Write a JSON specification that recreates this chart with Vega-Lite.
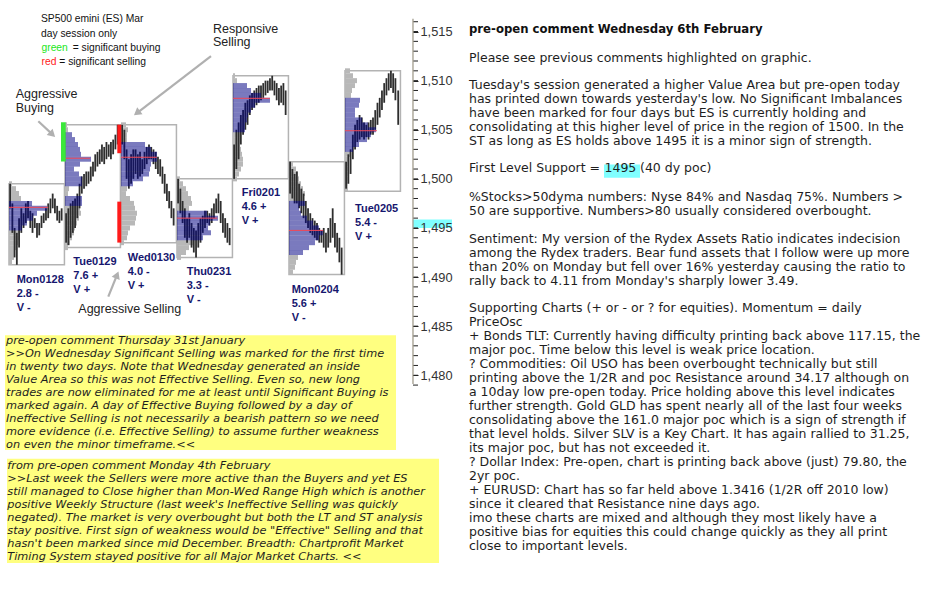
{
  "$schema": "https://vega.github.io/schema/vega-lite/v6.json",
  "width": 413,
  "height": 590,
  "autosize": {"type": "none"},
  "padding": {"left": 0, "top": 0, "right": 524, "bottom": 0},
  "background": "white",
  "config": {"view": {"stroke": null}, "axis": {"grid": false}},
  "datasets": {
    "boxes": [
      {"s": 0, "e": 0.99, "lo": 1491.25, "hi": 1499.5},
      {"s": 1, "e": 1.99, "lo": 1493.0, "hi": 1505.5},
      {"s": 2, "e": 2.99, "lo": 1493.5, "hi": 1505.5},
      {"s": 3, "e": 3.99, "lo": 1492.0, "hi": 1500.0},
      {"s": 4, "e": 4.99, "lo": 1500.0, "hi": 1510.5},
      {"s": 5, "e": 5.99, "lo": 1490.25, "hi": 1501.75},
      {"s": 6, "e": 6.99, "lo": 1498.75, "hi": 1511.0}
    ],
    "ticks": [
      {"p": 1479}, {"p": 1480}, {"p": 1481}, {"p": 1482}, {"p": 1483}, {"p": 1484}, {"p": 1485}, {"p": 1486}, {"p": 1487}, {"p": 1488},
      {"p": 1489}, {"p": 1490}, {"p": 1491}, {"p": 1492}, {"p": 1493}, {"p": 1494}, {"p": 1495}, {"p": 1496}, {"p": 1497}, {"p": 1498},
      {"p": 1499}, {"p": 1500}, {"p": 1501}, {"p": 1502}, {"p": 1503}, {"p": 1504}, {"p": 1505}, {"p": 1506}, {"p": 1507}, {"p": 1508},
      {"p": 1509}, {"p": 1510}, {"p": 1511}, {"p": 1512}, {"p": 1513}, {"p": 1514}, {"p": 1515}, {"p": 1516}
    ],
    "prof": [
      {"d": 0, "p": 1499.5, "e": 0.054, "va": 0}, {"d": 0, "p": 1499.0, "e": 0.125, "va": 0}, {"d": 0, "p": 1498.5, "e": 0.179, "va": 0}, {"d": 0, "p": 1498.0, "e": 0.214, "va": 0},
      {"d": 0, "p": 1497.5, "e": 0.411, "va": 1}, {"d": 0, "p": 1497.0, "e": 0.679, "va": 1}, {"d": 0, "p": 1496.5, "e": 0.5, "va": 1}, {"d": 0, "p": 1496.0, "e": 0.429, "va": 1},
      {"d": 0, "p": 1495.5, "e": 0.321, "va": 1}, {"d": 0, "p": 1495.0, "e": 0.232, "va": 1}, {"d": 0, "p": 1494.5, "e": 0.179, "va": 0}, {"d": 0, "p": 1494.0, "e": 0.196, "va": 0},
      {"d": 0, "p": 1493.5, "e": 0.161, "va": 0}, {"d": 0, "p": 1493.0, "e": 0.143, "va": 0}, {"d": 0, "p": 1492.5, "e": 0.107, "va": 0}, {"d": 0, "p": 1492.0, "e": 0.089, "va": 0},
      {"d": 0, "p": 1491.5, "e": 0.054, "va": 0},
      {"d": 1, "p": 1505.5, "e": 1.036, "va": 0}, {"d": 1, "p": 1505.0, "e": 1.054, "va": 0}, {"d": 1, "p": 1504.5, "e": 1.125, "va": 1}, {"d": 1, "p": 1504.0, "e": 1.179, "va": 1},
      {"d": 1, "p": 1503.5, "e": 1.232, "va": 1}, {"d": 1, "p": 1503.0, "e": 1.268, "va": 1}, {"d": 1, "p": 1502.5, "e": 1.286, "va": 1}, {"d": 1, "p": 1502.0, "e": 1.464, "va": 1},
      {"d": 1, "p": 1501.5, "e": 1.268, "va": 1}, {"d": 1, "p": 1501.0, "e": 1.161, "va": 1}, {"d": 1, "p": 1500.5, "e": 1.25, "va": 1}, {"d": 1, "p": 1500.0, "e": 1.304, "va": 1},
      {"d": 1, "p": 1499.5, "e": 1.304, "va": 1}, {"d": 1, "p": 1499.0, "e": 1.071, "va": 0}, {"d": 1, "p": 1498.5, "e": 1.054, "va": 0}, {"d": 1, "p": 1498.0, "e": 1.304, "va": 1},
      {"d": 1, "p": 1497.5, "e": 1.304, "va": 1}, {"d": 1, "p": 1497.0, "e": 1.268, "va": 0}, {"d": 1, "p": 1496.5, "e": 1.286, "va": 0}, {"d": 1, "p": 1496.0, "e": 1.25, "va": 0},
      {"d": 1, "p": 1495.5, "e": 1.214, "va": 0}, {"d": 1, "p": 1495.0, "e": 1.179, "va": 0}, {"d": 1, "p": 1494.5, "e": 1.161, "va": 0}, {"d": 1, "p": 1494.0, "e": 1.125, "va": 0},
      {"d": 1, "p": 1493.5, "e": 1.089, "va": 0}, {"d": 1, "p": 1493.0, "e": 1.054, "va": 0},
      {"d": 2, "p": 1505.5, "e": 2.089, "va": 0}, {"d": 2, "p": 1505.0, "e": 2.125, "va": 0}, {"d": 2, "p": 1504.5, "e": 2.107, "va": 0}, {"d": 2, "p": 1504.0, "e": 2.107, "va": 0},
      {"d": 2, "p": 1503.5, "e": 2.429, "va": 1}, {"d": 2, "p": 1503.0, "e": 2.536, "va": 1}, {"d": 2, "p": 1502.5, "e": 2.643, "va": 1}, {"d": 2, "p": 1502.0, "e": 2.643, "va": 1},
      {"d": 2, "p": 1501.5, "e": 2.536, "va": 1}, {"d": 2, "p": 1501.0, "e": 2.518, "va": 1}, {"d": 2, "p": 1500.5, "e": 2.5, "va": 1}, {"d": 2, "p": 1500.0, "e": 2.393, "va": 1},
      {"d": 2, "p": 1499.5, "e": 2.214, "va": 1}, {"d": 2, "p": 1499.0, "e": 2.107, "va": 0}, {"d": 2, "p": 1498.5, "e": 2.089, "va": 0}, {"d": 2, "p": 1498.0, "e": 2.161, "va": 0},
      {"d": 2, "p": 1497.5, "e": 2.232, "va": 0}, {"d": 2, "p": 1497.0, "e": 2.25, "va": 0}, {"d": 2, "p": 1496.5, "e": 2.286, "va": 0}, {"d": 2, "p": 1496.0, "e": 2.268, "va": 0},
      {"d": 2, "p": 1495.5, "e": 2.25, "va": 0}, {"d": 2, "p": 1495.0, "e": 2.161, "va": 0}, {"d": 2, "p": 1494.5, "e": 2.125, "va": 0}, {"d": 2, "p": 1494.0, "e": 2.107, "va": 0},
      {"d": 2, "p": 1493.5, "e": 2.054, "va": 0},
      {"d": 3, "p": 1500.0, "e": 3.054, "va": 0}, {"d": 3, "p": 1499.5, "e": 3.107, "va": 0}, {"d": 3, "p": 1499.0, "e": 3.161, "va": 0}, {"d": 3, "p": 1498.5, "e": 3.196, "va": 0},
      {"d": 3, "p": 1498.0, "e": 3.25, "va": 0}, {"d": 3, "p": 1497.5, "e": 3.268, "va": 0}, {"d": 3, "p": 1497.0, "e": 3.214, "va": 0}, {"d": 3, "p": 1496.5, "e": 3.536, "va": 1},
      {"d": 3, "p": 1496.0, "e": 3.732, "va": 1}, {"d": 3, "p": 1495.5, "e": 3.589, "va": 1}, {"d": 3, "p": 1495.0, "e": 3.554, "va": 1}, {"d": 3, "p": 1494.5, "e": 3.607, "va": 1},
      {"d": 3, "p": 1494.0, "e": 3.464, "va": 1}, {"d": 3, "p": 1493.5, "e": 3.286, "va": 0}, {"d": 3, "p": 1493.0, "e": 3.214, "va": 0}, {"d": 3, "p": 1492.5, "e": 3.161, "va": 0},
      {"d": 3, "p": 1492.0, "e": 3.071, "va": 0},
      {"d": 4, "p": 1510.5, "e": 4.036, "va": 0}, {"d": 4, "p": 1510.0, "e": 4.071, "va": 0}, {"d": 4, "p": 1509.5, "e": 4.25, "va": 1}, {"d": 4, "p": 1509.0, "e": 4.321, "va": 1},
      {"d": 4, "p": 1508.5, "e": 4.5, "va": 1}, {"d": 4, "p": 1508.0, "e": 4.661, "va": 1}, {"d": 4, "p": 1507.5, "e": 4.393, "va": 1}, {"d": 4, "p": 1507.0, "e": 4.321, "va": 1},
      {"d": 4, "p": 1506.5, "e": 4.268, "va": 1}, {"d": 4, "p": 1506.0, "e": 4.25, "va": 1}, {"d": 4, "p": 1505.5, "e": 4.214, "va": 1}, {"d": 4, "p": 1505.0, "e": 4.214, "va": 1},
      {"d": 4, "p": 1504.5, "e": 4.143, "va": 0}, {"d": 4, "p": 1504.0, "e": 4.125, "va": 0}, {"d": 4, "p": 1503.5, "e": 4.125, "va": 0}, {"d": 4, "p": 1503.0, "e": 4.143, "va": 0},
      {"d": 4, "p": 1502.5, "e": 4.161, "va": 0}, {"d": 4, "p": 1502.0, "e": 4.179, "va": 0}, {"d": 4, "p": 1501.5, "e": 4.179, "va": 0}, {"d": 4, "p": 1501.0, "e": 4.143, "va": 0},
      {"d": 4, "p": 1500.5, "e": 4.107, "va": 0}, {"d": 4, "p": 1500.0, "e": 4.071, "va": 0},
      {"d": 5, "p": 1501.5, "e": 5.071, "va": 0}, {"d": 5, "p": 1501.0, "e": 5.125, "va": 0}, {"d": 5, "p": 1500.5, "e": 5.161, "va": 0}, {"d": 5, "p": 1500.0, "e": 5.179, "va": 0},
      {"d": 5, "p": 1499.5, "e": 5.214, "va": 0}, {"d": 5, "p": 1499.0, "e": 5.25, "va": 0}, {"d": 5, "p": 1498.5, "e": 5.286, "va": 0}, {"d": 5, "p": 1498.0, "e": 5.268, "va": 0},
      {"d": 5, "p": 1497.5, "e": 5.286, "va": 1}, {"d": 5, "p": 1497.0, "e": 5.179, "va": 1}, {"d": 5, "p": 1496.5, "e": 5.214, "va": 1}, {"d": 5, "p": 1496.0, "e": 5.321, "va": 1},
      {"d": 5, "p": 1495.5, "e": 5.429, "va": 1}, {"d": 5, "p": 1495.0, "e": 5.536, "va": 1}, {"d": 5, "p": 1494.5, "e": 5.607, "va": 1}, {"d": 5, "p": 1494.0, "e": 5.536, "va": 1},
      {"d": 5, "p": 1493.5, "e": 5.464, "va": 1}, {"d": 5, "p": 1493.0, "e": 5.357, "va": 1}, {"d": 5, "p": 1492.5, "e": 5.25, "va": 1}, {"d": 5, "p": 1492.0, "e": 5.161, "va": 0},
      {"d": 5, "p": 1491.5, "e": 5.125, "va": 0}, {"d": 5, "p": 1491.0, "e": 5.107, "va": 0}, {"d": 5, "p": 1490.5, "e": 5.071, "va": 0},
      {"d": 6, "p": 1511.0, "e": 6.089, "va": 0}, {"d": 6, "p": 1510.5, "e": 6.143, "va": 0}, {"d": 6, "p": 1510.0, "e": 6.214, "va": 0}, {"d": 6, "p": 1509.5, "e": 6.179, "va": 0},
      {"d": 6, "p": 1509.0, "e": 6.125, "va": 0}, {"d": 6, "p": 1508.5, "e": 6.107, "va": 0}, {"d": 6, "p": 1508.0, "e": 6.268, "va": 1}, {"d": 6, "p": 1507.5, "e": 6.25, "va": 1},
      {"d": 6, "p": 1507.0, "e": 6.179, "va": 1}, {"d": 6, "p": 1506.5, "e": 6.179, "va": 1}, {"d": 6, "p": 1506.0, "e": 6.304, "va": 1}, {"d": 6, "p": 1505.5, "e": 6.411, "va": 1},
      {"d": 6, "p": 1505.0, "e": 6.554, "va": 1}, {"d": 6, "p": 1504.5, "e": 6.464, "va": 1}, {"d": 6, "p": 1504.0, "e": 6.393, "va": 1}, {"d": 6, "p": 1503.5, "e": 6.25, "va": 1},
      {"d": 6, "p": 1503.0, "e": 6.143, "va": 1}, {"d": 6, "p": 1502.5, "e": 6.089, "va": 0}, {"d": 6, "p": 1502.0, "e": 6.071, "va": 0}, {"d": 6, "p": 1501.5, "e": 6.071, "va": 0},
      {"d": 6, "p": 1501.0, "e": 6.071, "va": 0}, {"d": 6, "p": 1500.5, "e": 6.071, "va": 0}, {"d": 6, "p": 1500.0, "e": 6.071, "va": 0}, {"d": 6, "p": 1499.5, "e": 6.054, "va": 0},
      {"d": 6, "p": 1499.0, "e": 6.054, "va": 0}
    ],
    "bars": [
      {"t": 0.02, "l": 1497.0, "h": 1499.5}, {"t": 0.06, "l": 1494.5, "h": 1497.5}, {"t": 0.10, "l": 1492.0, "h": 1495.0}, {"t": 0.14, "l": 1491.25, "h": 1494.5},
      {"t": 0.18, "l": 1493.0, "h": 1496.0}, {"t": 0.22, "l": 1494.5, "h": 1497.0}, {"t": 0.26, "l": 1495.0, "h": 1496.5}, {"t": 0.30, "l": 1495.5, "h": 1497.5},
      {"t": 0.34, "l": 1496.0, "h": 1497.75}, {"t": 0.38, "l": 1495.0, "h": 1496.75}, {"t": 0.42, "l": 1494.5, "h": 1496.5}, {"t": 0.46, "l": 1495.0, "h": 1496.0},
      {"t": 0.50, "l": 1494.0, "h": 1495.5}, {"t": 0.54, "l": 1494.25, "h": 1495.5}, {"t": 0.58, "l": 1495.0, "h": 1496.25}, {"t": 0.62, "l": 1495.5, "h": 1496.5},
      {"t": 0.66, "l": 1495.75, "h": 1497.0}, {"t": 0.70, "l": 1496.0, "h": 1497.5}, {"t": 0.74, "l": 1496.5, "h": 1498.0}, {"t": 0.78, "l": 1497.0, "h": 1498.5},
      {"t": 0.82, "l": 1496.5, "h": 1498.0}, {"t": 0.86, "l": 1495.75, "h": 1497.25}, {"t": 0.90, "l": 1495.5, "h": 1496.75}, {"t": 0.94, "l": 1495.75, "h": 1497.0},
      {"t": 1.02, "l": 1493.5, "h": 1496.5}, {"t": 1.06, "l": 1493.25, "h": 1497.0}, {"t": 1.10, "l": 1494.0, "h": 1497.5}, {"t": 1.14, "l": 1494.5, "h": 1497.75},
      {"t": 1.18, "l": 1495.0, "h": 1498.0}, {"t": 1.22, "l": 1496.0, "h": 1498.5}, {"t": 1.26, "l": 1497.0, "h": 1499.5}, {"t": 1.30, "l": 1498.5, "h": 1500.25},
      {"t": 1.34, "l": 1499.0, "h": 1500.5}, {"t": 1.38, "l": 1499.25, "h": 1500.75}, {"t": 1.42, "l": 1499.5, "h": 1500.75}, {"t": 1.46, "l": 1499.75, "h": 1501.25},
      {"t": 1.50, "l": 1500.25, "h": 1501.75}, {"t": 1.54, "l": 1500.75, "h": 1502.5}, {"t": 1.58, "l": 1501.25, "h": 1502.75}, {"t": 1.62, "l": 1501.5, "h": 1503.0},
      {"t": 1.66, "l": 1501.75, "h": 1503.5}, {"t": 1.70, "l": 1501.5, "h": 1503.25}, {"t": 1.74, "l": 1502.0, "h": 1503.75}, {"t": 1.78, "l": 1502.25, "h": 1503.5},
      {"t": 1.82, "l": 1502.0, "h": 1503.75}, {"t": 1.86, "l": 1502.5, "h": 1504.0}, {"t": 1.90, "l": 1503.0, "h": 1504.5}, {"t": 1.94, "l": 1503.5, "h": 1505.5},
      {"t": 2.02, "l": 1503.5, "h": 1505.5}, {"t": 2.06, "l": 1502.0, "h": 1505.0}, {"t": 2.10, "l": 1500.0, "h": 1503.0}, {"t": 2.14, "l": 1499.0, "h": 1502.0},
      {"t": 2.18, "l": 1499.5, "h": 1502.5}, {"t": 2.22, "l": 1500.0, "h": 1503.0}, {"t": 2.26, "l": 1500.5, "h": 1503.0}, {"t": 2.30, "l": 1500.0, "h": 1502.5},
      {"t": 2.34, "l": 1500.25, "h": 1502.75}, {"t": 2.38, "l": 1500.5, "h": 1502.0}, {"t": 2.42, "l": 1501.0, "h": 1502.75}, {"t": 2.46, "l": 1501.5, "h": 1503.25},
      {"t": 2.50, "l": 1502.0, "h": 1503.5}, {"t": 2.54, "l": 1502.0, "h": 1503.25}, {"t": 2.58, "l": 1501.5, "h": 1503.0}, {"t": 2.62, "l": 1501.0, "h": 1502.75},
      {"t": 2.66, "l": 1500.5, "h": 1502.25}, {"t": 2.70, "l": 1500.25, "h": 1502.0}, {"t": 2.74, "l": 1499.5, "h": 1501.25}, {"t": 2.78, "l": 1498.5, "h": 1500.5},
      {"t": 2.82, "l": 1497.75, "h": 1499.5}, {"t": 2.86, "l": 1497.0, "h": 1498.75}, {"t": 2.90, "l": 1496.0, "h": 1497.75}, {"t": 2.94, "l": 1495.25, "h": 1497.0},
      {"t": 3.02, "l": 1497.5, "h": 1500.0}, {"t": 3.06, "l": 1496.5, "h": 1499.0}, {"t": 3.10, "l": 1495.5, "h": 1497.75}, {"t": 3.14, "l": 1494.0, "h": 1497.0},
      {"t": 3.18, "l": 1493.5, "h": 1496.0}, {"t": 3.22, "l": 1494.0, "h": 1496.5}, {"t": 3.26, "l": 1493.0, "h": 1495.5}, {"t": 3.30, "l": 1492.5, "h": 1495.0},
      {"t": 3.34, "l": 1492.0, "h": 1494.75}, {"t": 3.38, "l": 1493.0, "h": 1495.5}, {"t": 3.42, "l": 1493.5, "h": 1496.0}, {"t": 3.46, "l": 1494.5, "h": 1496.25},
      {"t": 3.50, "l": 1495.0, "h": 1496.75}, {"t": 3.54, "l": 1495.5, "h": 1496.75}, {"t": 3.58, "l": 1495.25, "h": 1496.5}, {"t": 3.62, "l": 1495.5, "h": 1497.0},
      {"t": 3.66, "l": 1496.0, "h": 1497.5}, {"t": 3.70, "l": 1496.5, "h": 1498.0}, {"t": 3.74, "l": 1496.5, "h": 1498.5}, {"t": 3.78, "l": 1495.5, "h": 1497.75},
      {"t": 3.82, "l": 1494.5, "h": 1496.5}, {"t": 3.86, "l": 1494.0, "h": 1496.0}, {"t": 3.90, "l": 1493.5, "h": 1495.5}, {"t": 3.94, "l": 1493.25, "h": 1495.0},
      {"t": 4.02, "l": 1500.0, "h": 1503.5}, {"t": 4.06, "l": 1501.0, "h": 1505.0}, {"t": 4.10, "l": 1502.0, "h": 1505.75}, {"t": 4.14, "l": 1503.5, "h": 1506.5},
      {"t": 4.18, "l": 1504.5, "h": 1507.0}, {"t": 4.22, "l": 1505.0, "h": 1507.75}, {"t": 4.26, "l": 1505.5, "h": 1508.0}, {"t": 4.30, "l": 1506.5, "h": 1508.5},
      {"t": 4.34, "l": 1507.0, "h": 1508.75}, {"t": 4.38, "l": 1507.25, "h": 1509.0}, {"t": 4.42, "l": 1507.5, "h": 1509.25}, {"t": 4.46, "l": 1507.75, "h": 1509.5},
      {"t": 4.50, "l": 1508.0, "h": 1509.5}, {"t": 4.54, "l": 1508.25, "h": 1509.75}, {"t": 4.58, "l": 1508.5, "h": 1510.0}, {"t": 4.62, "l": 1508.75, "h": 1510.0},
      {"t": 4.66, "l": 1509.0, "h": 1510.25}, {"t": 4.70, "l": 1509.0, "h": 1510.5}, {"t": 4.74, "l": 1508.5, "h": 1510.0}, {"t": 4.78, "l": 1508.0, "h": 1509.75},
      {"t": 4.82, "l": 1507.5, "h": 1509.25}, {"t": 4.86, "l": 1507.75, "h": 1509.5}, {"t": 4.90, "l": 1507.5, "h": 1509.75}, {"t": 4.94, "l": 1506.5, "h": 1509.0},
      {"t": 5.02, "l": 1498.5, "h": 1501.75}, {"t": 5.06, "l": 1498.0, "h": 1501.0}, {"t": 5.10, "l": 1497.5, "h": 1500.5}, {"t": 5.14, "l": 1497.5, "h": 1500.75},
      {"t": 5.18, "l": 1497.0, "h": 1499.5}, {"t": 5.22, "l": 1496.5, "h": 1499.0}, {"t": 5.26, "l": 1496.0, "h": 1498.5}, {"t": 5.30, "l": 1495.5, "h": 1497.75},
      {"t": 5.34, "l": 1495.0, "h": 1497.0}, {"t": 5.38, "l": 1494.5, "h": 1496.5}, {"t": 5.42, "l": 1494.25, "h": 1496.0}, {"t": 5.46, "l": 1494.0, "h": 1495.75},
      {"t": 5.50, "l": 1493.75, "h": 1495.5}, {"t": 5.54, "l": 1493.5, "h": 1495.0}, {"t": 5.58, "l": 1493.5, "h": 1494.75}, {"t": 5.62, "l": 1493.0, "h": 1495.0},
      {"t": 5.66, "l": 1492.5, "h": 1494.5}, {"t": 5.70, "l": 1493.0, "h": 1495.0}, {"t": 5.74, "l": 1493.5, "h": 1496.0}, {"t": 5.78, "l": 1494.0, "h": 1497.0},
      {"t": 5.82, "l": 1493.0, "h": 1495.5}, {"t": 5.86, "l": 1492.5, "h": 1494.5}, {"t": 5.90, "l": 1491.5, "h": 1494.0}, {"t": 5.94, "l": 1490.25, "h": 1493.0},
      {"t": 6.02, "l": 1499.0, "h": 1501.75}, {"t": 6.06, "l": 1499.5, "h": 1502.5}, {"t": 6.10, "l": 1500.5, "h": 1503.0}, {"t": 6.14, "l": 1502.0, "h": 1504.5},
      {"t": 6.18, "l": 1503.0, "h": 1505.5}, {"t": 6.22, "l": 1503.75, "h": 1506.0}, {"t": 6.26, "l": 1504.0, "h": 1506.5}, {"t": 6.30, "l": 1504.25, "h": 1506.25},
      {"t": 6.34, "l": 1504.0, "h": 1505.75}, {"t": 6.38, "l": 1504.25, "h": 1505.5}, {"t": 6.42, "l": 1504.0, "h": 1505.75}, {"t": 6.46, "l": 1504.5, "h": 1506.0},
      {"t": 6.50, "l": 1504.5, "h": 1506.25}, {"t": 6.54, "l": 1505.0, "h": 1507.0}, {"t": 6.58, "l": 1505.5, "h": 1507.75}, {"t": 6.62, "l": 1506.25, "h": 1508.25},
      {"t": 6.66, "l": 1507.0, "h": 1509.0}, {"t": 6.70, "l": 1507.75, "h": 1509.75}, {"t": 6.74, "l": 1508.5, "h": 1510.25}, {"t": 6.78, "l": 1509.0, "h": 1510.75},
      {"t": 6.82, "l": 1509.25, "h": 1511.0}, {"t": 6.86, "l": 1508.75, "h": 1510.75}, {"t": 6.90, "l": 1508.0, "h": 1510.25}, {"t": 6.95, "l": 1505.5, "h": 1509.0}
    ],
    "poc": [
      {"d": 0, "e": 0.70, "p": 1497.1}, {"d": 1, "e": 1.45, "p": 1502.1}, {"d": 2, "e": 2.64, "p": 1502.2}, {"d": 3, "e": 3.72, "p": 1496.0},
      {"d": 4, "e": 4.66, "p": 1508.2}, {"d": 5, "e": 5.61, "p": 1494.75}, {"d": 6, "e": 6.57, "p": 1504.9}
    ],
    "sig": [
      {"s": 0.9286, "e": 1.0125, "lo": 1501.76, "hi": 1505.76, "k": "buy"},
      {"s": 1.934, "e": 2.005, "lo": 1502.61, "hi": 1505.52, "k": "sell"},
      {"s": 1.934, "e": 2.005, "lo": 1493.51, "hi": 1497.68, "k": "sell"}
    ],
    "arrows": [
      {"x1": 3.607, "y1": 1512.497, "x2": 2.284, "y2": 1506.702},
      {"x1": 0.523, "y1": 1505.861, "x2": 0.775, "y2": 1504.53},
      {"x1": 1.773, "y1": 1488.003, "x2": 1.93, "y2": 1490.215}
    ],
    "rightText": [
      {"x": 8.214, "y": 1512.93, "txt": "Please see previous comments highlighted on graphic."},
      {"x": 8.214, "y": 1510.125, "txt": "Tuesday's session generated a higher Value Area but pre-open today\nhas printed down towards yesterday's low.  No Significant Imbalances\nhave been marked for four days but ES is currently holding and\nconsolidating at this higher level of price in the region of 1500.  In the\nST as long as ES holds above 1495 it is a minor sign of strength."},
      {"x": 8.214, "y": 1501.716, "txt": "First Level Support ="},
      {"x": 10.634, "y": 1501.716, "txt": "1495"},
      {"x": 11.268, "y": 1501.716, "txt": "(40 dy poc)"},
      {"x": 8.214, "y": 1498.81, "txt": "%Stocks>50dyma numbers: Nyse 84% and Nasdaq 75%.   Numbers >\n50 are supportive.  Numbers>80 usually considered overbought."},
      {"x": 8.214, "y": 1494.51, "txt": "Sentiment: My version of the Rydex Assets Ratio indicates indecision\namong the Rydex traders. Bear fund assets that I follow were up more\nthan 20% on Monday but fell over 16% yesterday causing the ratio to\nrally back to 4.11 from Monday's sharply lower 3.49."},
      {"x": 8.214, "y": 1487.42, "txt": "Supporting Charts (+ or - or ? for equities).   Momentum = daily\nPriceOsc\n+ Bonds TLT: Currently having difficulty printing back above 117.15, the\nmajor poc.  Time below this level is weak price location.\n? Commodities: Oil USO has been overbought technically but still\nprinting above the 1/2R and poc Resistance around 34.17 although on\na 10day low pre-open today. Price holding above this level indicates\nfurther strength.   Gold GLD has spent nearly all of the last four weeks\nconsolidating above the 161.0 major poc which is a sign of strength if\nthat level holds.  Silver SLV is a Key Chart. It has again rallied to 31.25,\nits major poc, but has not exceeded it.\n? Dollar Index: Pre-open, chart is printing back above (just) 79.80, the\n2yr poc.\n+ EURUSD: Chart has so far held above 1.3416 (1/2R off 2010 low)\nsince it cleared that Resistance nine days ago.\nimo these charts are mixed and although they most likely have a\npositive bias for equities this could change quickly as they all print\nclose to important levels."}
    ]
  },
  "layer": [
    {
      "data": {"values": [
        {"x1": -0.0714, "x2": 6.911, "y1": 1484.07, "y2": 1472.39},
        {"x1": -0.0357, "x2": 7.679, "y1": 1471.49, "y2": 1460.88}
      ]},
      "mark": {"type": "rect", "color": "#ffff80"},
      "encoding": {
        "x": {"field": "x1", "type": "quantitative", "scale": {"domain": [-0.1607, 7.2143], "nice": false, "zero": false}, "axis": null},
        "x2": {"field": "x2"},
        "y": {"field": "y1", "type": "quantitative", "title": null, "scale": {"domain": [1458.644, 1517.703], "nice": false, "zero": false}},
        "y2": {"field": "y2"}
      }
    },
    {
      "data": {"values": [
        {"x1": 7.214, "x2": 7.911, "y1": 1495.85, "y2": 1495.0},
        {"x1": 10.625, "x2": 11.268, "y1": 1501.46, "y2": 1500.12}
      ]},
      "mark": {"type": "rect", "color": "#80ffff"},
      "encoding": {
        "x": {"field": "x1", "type": "quantitative", "axis": null},
        "x2": {"field": "x2"},
        "y": {"field": "y1", "type": "quantitative", "title": null},
        "y2": {"field": "y2"}
      }
    },
    {
      "data": {"name": "boxes"},
      "mark": {"type": "rect", "filled": false, "color": "#b3b3b3", "strokeWidth": 1.5},
      "encoding": {
        "x": {"field": "s", "type": "quantitative", "axis": null},
        "x2": {"field": "e"},
        "y": {"field": "lo", "type": "quantitative", "title": null, "axis": {
          "orient": "right", "title": null, "zindex": 1,
          "values": [1480, 1485, 1490, 1495, 1500, 1505, 1510, 1515],
          "format": ",",
          "tickSize": 5, "tickColor": "#222222", "tickWidth": 1, "domain": false, "grid": false,
          "labelFont": "Liberation Sans", "labelFontSize": 12.8, "labelColor": "#333333", "labelPadding": 2,
          "labelOverlap": false, "labelFlush": false, "labelBound": false
        }},
        "y2": {"field": "hi"}
      }
    },
    {
      "data": {"name": "ticks"},
      "mark": {"type": "rule", "color": "#222222", "strokeWidth": 1},
      "encoding": {
        "x": {"datum": 7.2143, "type": "quantitative", "axis": null},
        "x2": {"datum": 7.3036},
        "y": {"field": "p", "type": "quantitative", "title": null}
      }
    },
    {
      "data": {"name": "prof"},
      "transform": [{"filter": "datum.va == 0"}],
      "mark": {"type": "bar", "orient": "horizontal", "size": 5, "color": "#b8b8b8"},
      "encoding": {
        "x": {"field": "d", "type": "quantitative", "axis": null},
        "x2": {"field": "e"},
        "y": {"field": "p", "type": "quantitative", "title": null}
      }
    },
    {
      "data": {"name": "bars"},
      "mark": {"type": "rule", "color": "#2e2e2e", "strokeWidth": 1.8},
      "encoding": {
        "x": {"field": "t", "type": "quantitative", "axis": null},
        "y": {"field": "l", "type": "quantitative", "title": null},
        "y2": {"field": "h"}
      }
    },
    {
      "data": {"name": "prof"},
      "transform": [{"filter": "datum.va == 1"}],
      "mark": {"type": "bar", "orient": "horizontal", "size": 5, "color": "#000082", "opacity": 0.52},
      "encoding": {
        "x": {"field": "d", "type": "quantitative", "axis": null},
        "x2": {"field": "e"},
        "y": {"field": "p", "type": "quantitative", "title": null}
      }
    },
    {
      "data": {"name": "poc"},
      "mark": {"type": "rule", "color": "#f04858", "strokeWidth": 1},
      "encoding": {
        "x": {"field": "d", "type": "quantitative", "axis": null},
        "x2": {"field": "e"},
        "y": {"field": "p", "type": "quantitative", "title": null}
      }
    },
    {
      "data": {"name": "sig"},
      "mark": {"type": "rect"},
      "encoding": {
        "x": {"field": "s", "type": "quantitative", "axis": null},
        "x2": {"field": "e"},
        "y": {"field": "lo", "type": "quantitative", "title": null},
        "y2": {"field": "hi"},
        "color": {"field": "k", "type": "nominal", "scale": {"domain": ["buy", "sell"], "range": ["#3be83b", "#ff1a1a"]}, "legend": null}
      }
    },
    {
      "data": {"name": "arrows"},
      "mark": {"type": "rule", "color": "#b0b0b0", "strokeWidth": 2.2},
      "encoding": {
        "x": {"field": "x1", "type": "quantitative", "axis": null},
        "x2": {"field": "x2"},
        "y": {"field": "y1", "type": "quantitative", "title": null},
        "y2": {"field": "y2"}
      }
    },
    {
      "data": {"values": [{"x": 2.284, "y": 1506.702}]},
      "mark": {"type": "point", "shape": "triangle-up", "filled": true, "size": 75, "angle": 232, "color": "#b0b0b0", "opacity": 1},
      "encoding": {"x": {"field": "x", "type": "quantitative", "axis": null}, "y": {"field": "y", "type": "quantitative", "title": null}}
    },
    {
      "data": {"values": [{"x": 0.775, "y": 1504.53}]},
      "mark": {"type": "point", "shape": "triangle-up", "filled": true, "size": 75, "angle": 133, "color": "#b0b0b0", "opacity": 1},
      "encoding": {"x": {"field": "x", "type": "quantitative", "axis": null}, "y": {"field": "y", "type": "quantitative", "title": null}}
    },
    {
      "data": {"values": [{"x": 1.93, "y": 1490.215}]},
      "mark": {"type": "point", "shape": "triangle-up", "filled": true, "size": 75, "angle": 22, "color": "#b0b0b0", "opacity": 1},
      "encoding": {"x": {"field": "x", "type": "quantitative", "axis": null}, "y": {"field": "y", "type": "quantitative", "title": null}}
    },
    {
      "data": {"values": [{"x": 7.214, "y": 1516.3, "y2": 1479.1}]},
      "mark": {"type": "rule", "color": "#a29d8e", "strokeWidth": 1.3},
      "encoding": {
        "x": {"field": "x", "type": "quantitative", "axis": null},
        "y": {"field": "y", "type": "quantitative", "title": null},
        "y2": {"field": "y2"}
      }
    },
    {
      "data": {"values": [
        {"x": 0.5714, "y": 1516.76, "txt": "SP500 emini (ES) Mar\nday session only"}
      ]},
      "mark": {"type": "text", "align": "left", "baseline": "top", "font": "Liberation Sans", "fontSize": 10.3, "lineBreak": "\n", "lineHeight": 14.6, "color": "#111111"},
      "encoding": {"x": {"field": "x", "type": "quantitative", "axis": null}, "y": {"field": "y", "type": "quantitative", "title": null}, "text": {"field": "txt", "type": "nominal"}}
    },
    {
      "data": {"values": [
        {"x": 1.1375, "y": 1513.86, "txt": "= significant buying"},
        {"x": 0.8982, "y": 1512.43, "txt": "= significant selling"}
      ]},
      "mark": {"type": "text", "align": "left", "baseline": "top", "font": "Liberation Sans", "fontSize": 10.3, "color": "#111111"},
      "encoding": {"x": {"field": "x", "type": "quantitative", "axis": null}, "y": {"field": "y", "type": "quantitative", "title": null}, "text": {"field": "txt", "type": "nominal"}}
    },
    {
      "data": {"values": [{"x": 0.58, "y": 1513.86, "txt": "green"}]},
      "mark": {"type": "text", "align": "left", "baseline": "top", "font": "Liberation Sans", "fontSize": 10.3, "color": "#22e622"},
      "encoding": {"x": {"field": "x", "type": "quantitative", "axis": null}, "y": {"field": "y", "type": "quantitative", "title": null}, "text": {"field": "txt", "type": "nominal"}}
    },
    {
      "data": {"values": [{"x": 0.58, "y": 1512.43, "txt": "red"}]},
      "mark": {"type": "text", "align": "left", "baseline": "top", "font": "Liberation Sans", "fontSize": 10.3, "color": "#ff2020"},
      "encoding": {"x": {"field": "x", "type": "quantitative", "axis": null}, "y": {"field": "y", "type": "quantitative", "title": null}, "text": {"field": "txt", "type": "nominal"}}
    },
    {
      "data": {"values": [
        {"x": 3.643, "y": 1515.9, "txt": "Responsive\nSelling"},
        {"x": 0.1196, "y": 1509.21, "txt": "Aggressive\nBuying"},
        {"x": 1.2375, "y": 1487.322, "txt": "Aggressive Selling"}
      ]},
      "mark": {"type": "text", "align": "left", "baseline": "top", "font": "Liberation Sans", "fontSize": 12.5, "lineBreak": "\n", "lineHeight": 13.4, "color": "#222222"},
      "encoding": {"x": {"field": "x", "type": "quantitative", "axis": null}, "y": {"field": "y", "type": "quantitative", "title": null}, "text": {"field": "txt", "type": "nominal"}}
    },
    {
      "data": {"values": [
        {"x": 0.1375, "y": 1490.275, "txt": "Mon0128\n2.8 -\nV -"},
        {"x": 1.148, "y": 1492.107, "txt": "Tue0129\n7.6 +\nV +"},
        {"x": 2.12, "y": 1492.508, "txt": "Wed0130\n4.0 -\nV +"},
        {"x": 3.173, "y": 1491.076, "txt": "Thu0231\n3.3 -\nV -"},
        {"x": 4.155, "y": 1499.184, "txt": "Fri0201\n4.6 +\nV +"},
        {"x": 5.048, "y": 1489.244, "txt": "Mon0204\n5.6 +\nV -"},
        {"x": 6.179, "y": 1497.512, "txt": "Tue0205\n5.4 -\nV +"}
      ]},
      "mark": {"type": "text", "align": "left", "baseline": "top", "font": "Liberation Sans", "fontWeight": "bold", "fontSize": 11, "lineBreak": "\n", "lineHeight": 14, "color": "#16166e"},
      "encoding": {"x": {"field": "x", "type": "quantitative", "axis": null}, "y": {"field": "y", "type": "quantitative", "title": null}, "text": {"field": "txt", "type": "nominal"}}
    },
    {
      "data": {"values": [
        {"x": -0.0536, "y": 1484.119, "txt": "pre-open comment Thursday 31st January\n>>On Wednesday Significant Selling was marked for the first time\nin twenty two days.  Note that Wednesday generated an inside\nValue Area so this was not Effective Selling. Even so, new long\ntrades are now eliminated for me at least until Significant Buying is\nmarked again.  A day of Effective Buying followed by a day of\nIneffective Selling is not necessarily a bearish pattern so we need\nmore evidence (i.e. Effective Selling) to assume further weakness\non even the minor timeframe.<<"},
        {"x": -0.0304, "y": 1471.337, "txt": "from pre-open comment Monday 4th February\n>>Last week the Sellers were more active than the Buyers and yet ES\nstill managed to Close higher than Mon-Wed Range High which is another\npositive Weekly Structure (last week's Ineffective Selling was quickly\nnegated).  The market is very overbought but both the LT and ST analysis\nstay positive.  First sign of weakness would be \"Effective\" Selling and that\nhasn't been marked since mid December.    Breadth: Chartprofit Market\nTiming System stayed positive for all Major Market Charts. <<"}
      ]},
      "mark": {"type": "text", "align": "left", "baseline": "top", "font": "DejaVu Sans", "fontStyle": "italic", "fontSize": 11.3, "lineBreak": "\n", "lineHeight": 13, "color": "#1e1e1e"},
      "encoding": {"x": {"field": "x", "type": "quantitative", "axis": null}, "y": {"field": "y", "type": "quantitative", "title": null}, "text": {"field": "txt", "type": "nominal"}}
    },
    {
      "data": {"values": [{"x": 8.214, "y": 1515.77, "txt": "pre-open comment Wednesday 6th February"}]},
      "mark": {"type": "text", "align": "left", "baseline": "top", "font": "DejaVu Sans", "fontWeight": "bold", "fontSize": 11.7, "color": "#111111"},
      "encoding": {"x": {"field": "x", "type": "quantitative", "axis": null}, "y": {"field": "y", "type": "quantitative", "title": null}, "text": {"field": "txt", "type": "nominal"}}
    },
    {
      "data": {"name": "rightText"},
      "mark": {"type": "text", "align": "left", "baseline": "top", "font": "DejaVu Sans", "fontSize": 12.5, "lineBreak": "\n", "lineHeight": 14, "color": "#1e1e1e"},
      "encoding": {"x": {"field": "x", "type": "quantitative", "axis": null}, "y": {"field": "y", "type": "quantitative", "title": null}, "text": {"field": "txt", "type": "nominal"}}
    }
  ]
}
